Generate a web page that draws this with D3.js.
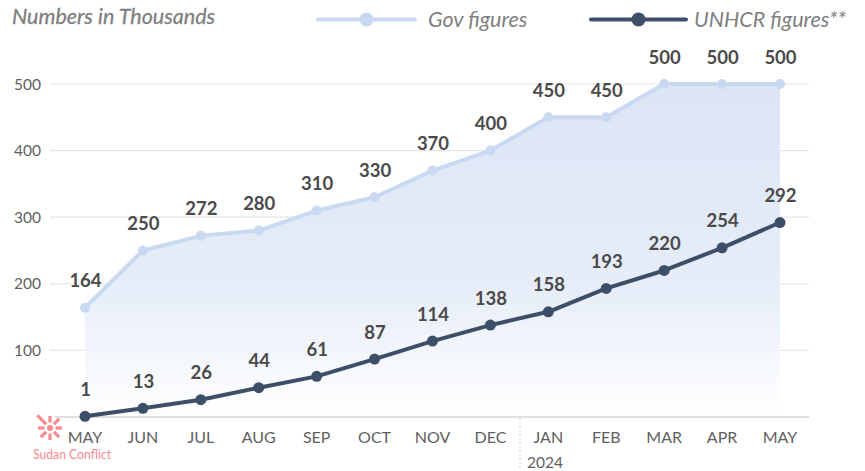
<!DOCTYPE html>
<html><head><meta charset="utf-8">
<script src="https://cdn.jsdelivr.net/npm/d3@7"></script>
<style>html,body{margin:0;padding:0;background:#fff}svg{display:block}text{font-family:Lato,sans-serif}</style>
</head><body><svg id="c" width="865" height="471"></svg>
<script>
const months=["MAY","JUN","JUL","AUG","SEP","OCT","NOV","DEC","JAN","FEB","MAR","APR","MAY"];
const govFigures=[164,250,272,280,310,330,370,400,450,450,500,500,500];
const unhcrFigures=[1,13,26,44,61,87,114,138,158,193,220,254,292];
const yTicks=[100,200,300,400,500];
const idx=months.map((d,i)=>i);
const svg=d3.select("#c");
const x=d3.scaleLinear().domain([0,12]).range([85,780]);
const y=d3.scaleLinear().domain([0,500]).range([417,84]);
const gov="#c9d9f1",dark="#3d4f68",label="#4a4a4a",axis="#5f5f5f";

const defs=svg.append("defs");
const g=defs.append("linearGradient").attr("id","fill").attr("x1",0).attr("y1",0).attr("x2",0).attr("y2",1);
g.append("stop").attr("offset","0%").attr("stop-color","#dbe5f5");
g.append("stop").attr("offset","60%").attr("stop-color","#e6edf8");
g.append("stop").attr("offset","100%").attr("stop-color","#ffffff");

svg.append("g").selectAll("line").data(yTicks).join("line")
 .attr("x1",50).attr("x2",809).attr("y1",d=>y(d)).attr("y2",d=>y(d)).attr("stroke","#e6e6e6").attr("stroke-width",1.2);
svg.append("g").selectAll("text").data(yTicks).join("text")
 .attr("x",41).attr("y",d=>y(d)+5.5).attr("text-anchor","end").attr("font-size",15.5).attr("fill",axis).text(d=>d);

svg.append("path").attr("fill","url(#fill)")
 .attr("d",d3.area().x(i=>x(i)).y0(y(0)).y1(i=>y(govFigures[i]))(idx));

svg.append("line").attr("x1",55).attr("x2",809).attr("y1",y(0)).attr("y2",y(0)).attr("stroke","#d4d4d4").attr("stroke-width",1.6);
svg.append("line").attr("x1",520).attr("x2",520).attr("y1",418).attr("y2",471).attr("stroke","#d8d8d8").attr("stroke-width",1.2).attr("stroke-dasharray","2 2");

const line=arr=>d3.line().x(i=>x(i)).y(i=>y(arr[i]))(idx);
function series(arr,col,w,r,off){
 svg.append("path").attr("fill","none").attr("stroke",col).attr("stroke-width",w).attr("stroke-linejoin","round").attr("d",line(arr));
 svg.append("g").selectAll("circle").data(idx).join("circle").attr("cx",i=>x(i)).attr("cy",i=>y(arr[i])).attr("r",r).attr("fill",col);
 svg.append("g").selectAll("text").data(idx).join("text").attr("x",i=>x(i)+0.5).attr("y",i=>y(arr[i])-off)
  .attr("text-anchor","middle").attr("font-size",18.5).attr("font-weight",700).attr("fill",label).text(i=>arr[i]);
}
series(govFigures,gov,4,5,20.5);
series(unhcrFigures,dark,4,5.5,20.5);

svg.append("g").selectAll("text").data(idx).join("text").attr("x",i=>x(i)).attr("y",443)
 .attr("text-anchor","middle").attr("font-size",16).attr("fill",axis).text(i=>months[i]);
svg.append("text").attr("x",545).attr("y",468).attr("text-anchor","middle").attr("font-size",15.5).attr("fill",axis).text("2024");

svg.append("text").attr("x",12).attr("y",23.5).attr("font-size",21.5).attr("font-weight",400).attr("font-style","italic").attr("fill","#7f7f7f").attr("stroke","#7f7f7f").attr("stroke-width",0.3).text("Numbers in Thousands");

function legend(x1,x2,col,tx,t){
 svg.append("line").attr("x1",x1).attr("x2",x2).attr("y1",19.5).attr("y2",19.5).attr("stroke",col).attr("stroke-width",4).attr("stroke-linecap","round");
 svg.append("circle").attr("cx",(x1+x2)/2).attr("cy",19.5).attr("r",7).attr("fill",col);
 svg.append("text").attr("x",tx).attr("y",27).attr("font-size",21.5).attr("font-style","italic").attr("fill","#808080").text(t);
}
legend(318,415,gov,428,"Gov figures");
legend(591,686,dark,694,"UNHCR figures**");

const logo=svg.append("g").attr("transform","translate(50,428)");
d3.range(8).forEach(k=>{
 const a=k*Math.PI/4;
 const len=k===5?18:(k%2?13:12);
 logo.append("line").attr("x1",Math.cos(a)*5.5).attr("y1",Math.sin(a)*5.5).attr("x2",Math.cos(a)*len).attr("y2",Math.sin(a)*len)
  .attr("stroke","#fb8a90").attr("stroke-width",3.2);
});
logo.append("circle").attr("r",3).attr("fill","#fb8a90");
svg.append("text").attr("x",33).attr("y",459).attr("font-size",13.5).attr("textLength",78).attr("lengthAdjust","spacingAndGlyphs").attr("fill","#fb8a90").text("Sudan Conflict");
</script></body></html>
